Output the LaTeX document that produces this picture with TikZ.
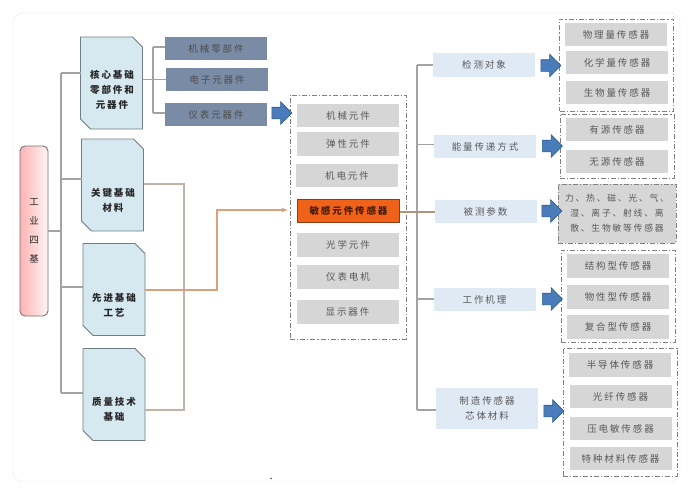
\documentclass[tikz,border=0pt]{standalone}
\usepackage{fontspec}
\setmainfont[LetterSpace=20]{Noto Sans CJK SC}
\usetikzlibrary{shapes.arrows}
\definecolor{framegray}{HTML}{E9E9E9}
\definecolor{linegray}{HTML}{A3A3A3}
\definecolor{linetan}{HTML}{C2B3A6}
\definecolor{lineorange}{HTML}{D8A27A}
\definecolor{linebrown}{HTML}{B0947C}
\definecolor{coreblue}{HTML}{D6E8F0}
\definecolor{coreedge}{HTML}{6E7E84}
\definecolor{slateblue}{HTML}{7A8BA6}
\definecolor{paleblue}{HTML}{E0EAF5}
\definecolor{cellgray}{HTML}{D6D6D6}
\definecolor{hotorange}{HTML}{F0611A}
\definecolor{arrowblue}{HTML}{4A7BBA}
\definecolor{arrowedge}{HTML}{2F5F8E}
\newcommand{\corepoly}[1]{\draw[coreedge, fill=coreblue, line width=0.9pt] (#1.north west) -- ([xshift=-10pt]#1.north east) -- ([yshift=-10pt]#1.north east) -- (#1.south east) -- ([xshift=10pt]#1.south west) -- ([yshift=10pt]#1.south west) -- cycle;}
\tikzset{
    basebox/.style={inner sep=0pt, outer sep=0pt, align=center, font=\fontsize{9.5}{15}\selectfont, text=black!65},
    corebox/.style={basebox, minimum width=62pt, minimum height=92pt},
    coretext/.style={basebox, font=\fontsize{9.5}{15}\selectfont\bfseries, text=black!85},
    partbox/.style={basebox, fill=slateblue, minimum width=102pt, minimum height=23pt, text=black!70},
    cellbox/.style={basebox, fill=cellgray, minimum width=102pt, minimum height=23.5pt},
    hotbox/.style={basebox, fill=hotorange, draw=black!40!hotorange, line width=0.6pt, minimum width=102pt, minimum height=23pt, text=black!70!hotorange, font=\fontsize{9.5}{15}\selectfont\bfseries},
    sortbox/.style={basebox, fill=paleblue, minimum width=102pt, minimum height=23.5pt},
    groupbox/.style={draw=black!50, line width=0.8pt, dash pattern=on 5pt off 2pt on 1.2pt off 2pt},
    fatarrow/.style={single arrow, draw=arrowedge, fill=arrowblue, line width=0.6pt, inner xsep=0pt, inner ysep=5.5pt, outer sep=0pt, minimum height=20pt, single arrow head extend=5.5pt, single arrow head indent=0pt},
    trunk/.style={draw=linegray, line width=1.1pt}
}
\begin{document}
\begin{tikzpicture}[x=1pt,y=-1pt]
    \useasboundingbox (0,0) rectangle (692,491);
    \draw[framegray, rounded corners=10pt] (13,13) rectangle (680,482);

    % groups behind the cells
    \node[groupbox, minimum width=116pt, minimum height=244pt, inner sep=0pt] (midgroup) at (348,217) {};
    \node[groupbox, minimum width=114pt, minimum height=92pt, inner sep=0pt] (detectgroup) at (616.5,65) {};
    \node[groupbox, minimum width=114pt, minimum height=64pt, inner sep=0pt] (energygroup) at (617,146) {};
    \node[groupbox, fill=cellgray, basebox, minimum width=118pt, minimum height=59pt, font=\fontsize{8.8}{15}\selectfont] (paramgroup) at (617,213.5) {力、热、磁、光、气、\\湿、离子、射线、离\\散、生物敏等传感器};
    \node[groupbox, minimum width=114pt, minimum height=92pt, inner sep=0pt] (mechgroup) at (618,296) {};
    \node[groupbox, minimum width=114pt, minimum height=128pt, inner sep=0pt] (materialgroup) at (620,412) {};

    % left column
    \node[basebox, draw=black!55, line width=0.9pt, rounded corners=5pt, left color=red!30!white, right color=red!4!white, minimum width=28pt, minimum height=170pt, text=black!85] (four) at (34,231) {工\\[4pt]业\\[4pt]四\\[4pt]基};
    \node[corebox] (core) at (111.5,83) {};
    \corepoly{core}
    \node[coretext] (coretxt) at (112,90) {核心基础\\零部件和\\元器件};
    \node[corebox] (material) at (112.5,185) {};
    \corepoly{material}
    \node[coretext] (materialtxt) at (113,200.5) {关键基础\\材料};
    \node[corebox] (craft) at (114,289.5) {};
    \corepoly{craft}
    \node[coretext] (crafttxt) at (114,305.5) {先进基础\\工艺};
    \node[corebox] (quality) at (114,394.5) {};
    \corepoly{quality}
    \node[coretext] (qualitytxt) at (114,409.5) {质量技术\\基础};

    \node[partbox] (mechpart) at (216,48.5) {机械零部件};
    \node[partbox] (elecpart) at (217,79.5) {电子元器件};
    \node[partbox] (instpart) at (216,114.5) {仪表元器件};
    \node[fatarrow] (instarrow) at (279,113) {};

    % middle column
    \node[cellbox] (mechcell) at (348,115.5) {机械元件};
    \node[cellbox] (elastic) at (348,144) {弹性元件};
    \node[cellbox] (electro) at (347,175.5) {机电元件};
    \node[hotbox] (sensor) at (348.5,210.5) {敏感元件传感器};
    \node[cellbox] (optic) at (348,245) {光学元件};
    \node[cellbox] (motor) at (348,277) {仪表电机};
    \node[cellbox] (display) at (347.5,312) {显示器件};

    % classes
    \node[sortbox] (object) at (484,65) {检测对象};
    \node[sortbox] (energy) at (485,146.5) {能量传递方式};
    \node[sortbox] (param) at (485.5,211.5) {被测参数};
    \node[sortbox] (mech) at (484.5,299.5) {工作机理};
    \node[sortbox, minimum height=41pt] (chip) at (487,408.5) {制造传感器\\芯体材料};
    \node[fatarrow] (objectarrow) at (548,65.5) {};
    \node[fatarrow] (energyarrow) at (549.5,146) {};
    \node[fatarrow] (paramarrow) at (549,211) {};
    \node[fatarrow] (mecharrow) at (549.5,299) {};
    \node[fatarrow] (chiparrow) at (551,411) {};

    % right column
    \node[cellbox] (physical) at (616,34.5) {物理量传感器};
    \node[cellbox] (chemical) at (617,62.5) {化学量传感器};
    \node[cellbox] (biologic) at (617,92.5) {生物量传感器};
    \node[cellbox] (active) at (617,129.5) {有源传感器};
    \node[cellbox] (passive) at (617,161.5) {无源传感器};
    \node[cellbox] (structure) at (618,266) {结构型传感器};
    \node[cellbox] (property) at (618,297) {物性型传感器};
    \node[cellbox] (compound) at (618,327) {复合型传感器};
    \node[cellbox] (semi) at (620,365) {半导体传感器};
    \node[cellbox] (fiber) at (620.5,396.5) {光纤传感器};
    \node[cellbox] (piezo) at (620.5,428.5) {压电敏传感器};
    \node[cellbox] (special) at (620.5,458.5) {特种材料传感器};

    % left trunk
    \coordinate (lefttop) at (61,73);
    \coordinate (leftmid) at (61,231);
    \coordinate (leftlow) at (61,393);
    \draw[trunk] (lefttop) -- (leftlow);
    \draw[trunk] (four.east |- leftmid) -- (leftmid);
    \draw[trunk] (lefttop) -- (core.west |- lefttop);
    \draw[trunk] (61,179) -- (material.west |- 61,179);
    \draw[trunk] (61,287) -- (craft.west |- 61,287);
    \draw[trunk] (leftlow) -- (quality.west |- leftlow);

    % parts
    \coordinate (parttop) at (153,47);
    \coordinate (partlow) at (153,113);
    \draw[trunk] (parttop) -- (partlow);
    \draw[trunk] (parttop) -- (mechpart.west |- parttop);
    \draw[trunk] (core.east |- elecpart) -- (elecpart.west);
    \draw[trunk] (partlow) -- (instpart.west |- partlow);

    % into the sensor
    \coordinate (jointop) at (184,184);
    \coordinate (joinlow) at (184,410);
    \coordinate (hopone) at (217,290);
    \coordinate (hoptwo) at (217,210);
    \draw[linetan, line width=1.1pt] (material.east |- jointop) -- (jointop) -- (joinlow) -- (quality.east |- joinlow);
    \draw[lineorange, line width=1.1pt, -latex] (craft.east |- hopone) -- (hopone) -- (hoptwo) -- (288,210);

    % right trunk
    \coordinate (righttop) at (417,65);
    \coordinate (rightlow) at (417,410);
    \draw[linegray, line width=1.3pt] (righttop) -- (rightlow);
    \draw[trunk] (righttop) -- (object.west);
    \draw[trunk] (417,144.5) -- (energy.west |- 417,144.5);
    \draw[trunk] (417,299) -- (mech.west |- 417,299);
    \draw[trunk] (rightlow) -- (chip.west |- rightlow);
    \draw[linebrown, line width=1.3pt] (sensor.east |- 417,212) -- (param.west |- 417,212);

    \fill[black!70] (271,478.5) circle (0.8pt);
\end{tikzpicture}
\end{document}
